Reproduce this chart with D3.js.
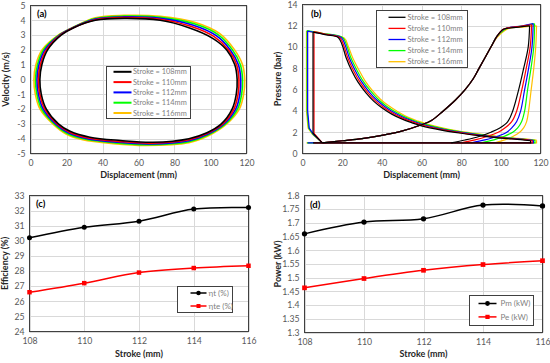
<!DOCTYPE html>
<html>
<head>
<meta charset="utf-8">
<script src="https://cdn.jsdelivr.net/npm/d3@7"></script>
<style>
  body { margin: 0; background: #fff; }
  svg { display: block; }
</style>
</head>
<body>
<svg id="chart" width="550" height="363"></svg>
<script>
// ---- data ----
const strokes = [108, 110, 112, 114, 116];
const strokeColors = ["#000000", "#ff0000", "#0000ff", "#00ff00", "#ffc000"];

// (a) velocity (m/s) vs displacement (mm), one closed loop per stroke
const vel108 = [[5.2,0],[6.3,1],[9.5,2],[17,3],[24,3.5],[36,4],[52,4.13],[72,4.0],[88,3.5],[101,2.8],[109,2],[113.5,1],[114.8,0],[114.3,-1],[112,-2],[106,-3],[98,-3.6],[88,-4],[68,-4.24],[50,-4.12],[33,-3.9],[22,-3.5],[15.5,-3],[8.8,-2],[6,-1]];
const vel110 = [[4.4,0],[5.5,1],[8.8,2],[16.6,3],[23.8,3.5],[36,4.04],[52,4.18],[72,4.07],[89,3.6],[102,2.9],[110,2],[114.5,1],[115.8,0],[115.3,-1],[113,-2],[106.8,-3],[98,-3.65],[88,-4.07],[67,-4.3],[49,-4.18],[32,-3.95],[21.5,-3.55],[14.8,-3],[8,-2],[5.2,-1]];
const vel112 = [[3.6,0],[4.7,1],[8,2],[16.2,3],[23.6,3.5],[36,4.08],[52,4.23],[72,4.13],[90,3.68],[103,2.98],[111,2],[115.5,1],[116.8,0],[116.3,-1],[114,-2],[107.5,-3],[98.3,-3.7],[88,-4.13],[66,-4.35],[48,-4.23],[31,-3.98],[21,-3.6],[14,-3],[7.1,-2],[4.4,-1]];
const vel114 = [[2.8,0],[3.9,1],[7.2,2],[15.8,3],[23.4,3.5],[36,4.12],[52,4.28],[72,4.2],[91,3.76],[104,3.05],[112.2,2],[116.6,1],[117.8,0],[117.3,-1],[115,-2],[108.3,-3],[98.5,-3.75],[88,-4.2],[65,-4.4],[47,-4.28],[30,-4.02],[20.5,-3.65],[13.2,-3],[6.2,-2],[3.6,-1]];
const vel116 = [[1.9,0],[3,1],[6.4,2],[15.4,3],[23.2,3.5],[36,4.17],[52,4.33],[72,4.27],[92,3.84],[105,3.12],[113.4,2],[117.8,1],[119,0],[118.4,-1],[116,-2],[109,-3],[98.8,-3.8],[88,-4.27],[64,-4.45],[46,-4.33],[29,-4.07],[20,-3.7],[12.4,-3],[5.3,-2],[2.7,-1]];
const velLoops = [vel108, vel110, vel112, vel114, vel116];

// (b) pressure (bar) vs displacement (mm)
const presLeft = [
  [[5.3,11.4],[5.3,1.9],[10,1.0]],
  [[5.8,11.45],[5.8,1.9],[10,1.0]],
  [[2.6,11.5],[2.6,4.0],[3.4,2.4],[5.5,1.8],[10,1.0]],
  [[2.3,11.55],[2.3,4.0],[3.1,2.4],[5.3,1.8],[10,1.0]],
  [[2.0,11.5],[2.0,4.0],[2.8,2.4],[5.0,1.8],[10,1.0]]
];
const presExp = [
  [[5.3,11.4],[12,11.15],[18,10.9],[20,10.2],[22,9.0],[25,7.7],[28,6.7],[32,5.7],[36,4.9],[40,4.3],[45,3.7],[50,3.25],[55,2.9],[60,2.6],[70,2.2],[80,1.9],[90,1.65],[100,1.45],[110,1.3],[115,1.2]],
  [[5.8,11.45],[12,11.2],[18.7,10.9],[20.7,10.2],[22.8,9.0],[25.8,7.75],[28.8,6.75],[32.8,5.75],[36.8,4.95],[40.8,4.35],[45.8,3.75],[50.8,3.3],[55.8,2.95],[60.8,2.65],[70.8,2.22],[80.8,1.92],[90.8,1.67],[100.8,1.47],[110.8,1.32],[115.8,1.22]],
  [[2.6,11.5],[10,11.25],[19.5,10.9],[21.5,10.2],[23.6,9.0],[26.6,7.8],[29.6,6.8],[33.6,5.8],[37.6,5.0],[41.6,4.4],[46.6,3.8],[51.6,3.33],[56.6,2.98],[61.6,2.68],[71.6,2.25],[81.6,1.94],[91.6,1.69],[101.6,1.48],[111.6,1.33],[116.4,1.23]],
  [[2.3,11.55],[10,11.3],[20.2,10.9],[22.2,10.2],[24.4,9.0],[27.4,7.85],[30.4,6.85],[34.4,5.85],[38.4,5.05],[42.4,4.45],[47.4,3.85],[52.4,3.37],[57.4,3.01],[62.4,2.71],[72.4,2.27],[82.4,1.96],[92.4,1.7],[102.4,1.49],[112.4,1.34],[117.2,1.24]],
  [[2.0,11.5],[10,11.25],[21,10.85],[23,10.1],[25.3,9.0],[28.3,7.9],[31.3,6.9],[35.3,5.9],[39.3,5.1],[43.3,4.5],[48.3,3.9],[53.3,3.4],[58.3,3.04],[63.3,2.74],[73.3,2.3],[83.3,1.98],[93.3,1.72],[103.3,1.5],[113.3,1.35],[118,1.25]]
];
const presComp = [
  [[10,1.0],[20,1.2],[30,1.4],[40,1.7],[50,2.1],[60,2.7],[65,3.1],[71,4.0],[77,5.0],[82,6.0],[86,7.0],[89,8.0],[92,9.0],[95,10.0],[98,11.0],[101,11.65],[103,11.75],[110,11.9],[114.5,12.0]],
  [[10,1.0],[20,1.2],[30,1.4],[40,1.7],[50,2.1],[60,2.7],[65,3.1],[71,4.0],[77,5.0],[82,6.0],[86,7.0],[89,8.0],[92,9.0],[95,10.0],[98,11.0],[101,11.65],[103,11.78],[110,11.95],[115.5,12.1]],
  [[10,1.0],[20,1.2],[30,1.4],[40,1.7],[50,2.1],[60,2.7],[65,3.1],[71,4.0],[77,5.0],[82,6.0],[86,7.0],[89,8.0],[92,9.0],[95,10.0],[98,11.0],[101.3,11.65],[103.3,11.8],[111,12.0],[116.3,12.2]],
  [[10,1.0],[20,1.2],[30,1.4],[40,1.7],[50,2.1],[60,2.7],[65,3.1],[71,4.0],[77,5.0],[82,6.0],[86,7.0],[89,8.0],[92,9.0],[95,10.0],[98,11.0],[101.6,11.6],[103.6,11.8],[112,12.0],[117,12.2]],
  [[10,1.0],[20,1.2],[30,1.4],[40,1.7],[50,2.1],[60,2.7],[65,3.1],[71,4.0],[77,5.0],[82,6.0],[86,7.0],[89,8.0],[92,9.0],[95,10.0],[98,10.9],[102,11.55],[104,11.75],[112,11.9],[118,12.0]]
];
const presRight = [
  [[114.5,12.0],[113.8,10],[111.5,8],[109,6],[106,4],[103.5,3],[99.5,2.4],[95,2],[89,1.6],[82,1.27],[75,1.0]],
  [[115.5,12.1],[114.8,10],[112.8,8],[110.6,6],[108,4],[105.5,3],[102,2.4],[98.7,2],[93,1.6],[87,1.28],[80,1.0]],
  [[116.3,12.2],[115.7,10],[114,8],[112,6],[110,4],[108,3],[105.5,2.4],[103,2],[98,1.6],[92,1.28],[85,1.0]],
  [[117,12.2],[116.6,10],[115.2,8],[113.5,6],[112,4],[110.5,3],[108.5,2.4],[106,2],[101.5,1.6],[96.5,1.28],[90,1.0]],
  [[118,12.0],[117.6,10],[116.6,8],[115.3,6],[114,4],[113,3],[111.5,2.4],[109.5,2],[106,1.6],[102,1.28],[97,1.0]]
];
const presBase = [
  [[5.3,1.0],[115,1.0],[115,1.2]],
  [[5.8,1.0],[115.8,1.0],[115.8,1.22]],
  [[2.6,1.0],[116.4,1.0],[116.4,1.23]],
  [[2.3,1.0],[117.2,1.0],[117.2,1.24]],
  [[2.0,1.0],[118,1.0],[118,1.25]]
];

// (c) efficiency and (d) power vs stroke
const strokeTicks = [108, 110, 112, 114, 116];
const etaT = [30.2, 30.9, 31.3, 32.1, 32.2];
const etaTe = [26.6, 27.2, 27.9, 28.2, 28.35];
const powerM = [1.66, 1.703, 1.715, 1.765, 1.762];
const powerE = [1.463, 1.497, 1.527, 1.548, 1.562];

// ---- drawing ----
const svg = d3.select("#chart");
svg.append("rect").attr("width", 550).attr("height", 363).attr("fill", "#fff");

const tickFont = "Lato, 'DejaVu Sans', sans-serif";
const tickColor = "#595959";
const gridColor = "#d9d9d9";

// builds one panel: grid, border, tick labels, titles
function panel(o) {
  const x = d3.scaleLinear().domain(o.xDomain).range([o.left, o.right]);
  const y = d3.scaleLinear().domain(o.yDomain).range([o.bottom, o.top]);
  const g = svg.append("g");

  g.append("g").selectAll("line").data(o.yTicks).join("line")
    .attr("x1", o.left).attr("x2", o.right)
    .attr("y1", d => Math.round(y(d)) + 0.5).attr("y2", d => Math.round(y(d)) + 0.5)
    .attr("stroke", gridColor).attr("stroke-width", 1);
  g.append("g").selectAll("line").data(o.xTicks).join("line")
    .attr("y1", o.top).attr("y2", o.bottom)
    .attr("x1", d => Math.round(x(d)) + 0.5).attr("x2", d => Math.round(x(d)) + 0.5)
    .attr("stroke", gridColor).attr("stroke-width", 1);

  const yAxis = g.append("g").attr("transform", `translate(${o.left},0)`)
    .call(d3.axisLeft(y).tickValues(o.yTicks).tickSize(0).tickPadding(5).tickFormat(d => d));
  const xAxis = g.append("g").attr("transform", `translate(0,${o.bottom})`)
    .call(d3.axisBottom(x).tickValues(o.xTicks).tickSize(0).tickPadding(6).tickFormat(d => d));
  [xAxis, yAxis].forEach(a => {
    a.select(".domain").remove();
    a.selectAll("text").attr("fill", tickColor).style("font-family", tickFont).style("font-size", "8.7px");
  });

  g.append("rect")
    .attr("x", o.left).attr("y", o.top)
    .attr("width", o.right - o.left).attr("height", o.bottom - o.top)
    .attr("fill", "none").attr("stroke", "#404040").attr("stroke-width", 1);

  g.append("text").attr("x", (o.left + o.right) / 2).attr("y", o.xTitleY)
    .attr("text-anchor", "middle").attr("fill", "#262626")
    .style("font-family", tickFont).style("font-size", "9px").style("font-weight", "bold")
    .text(o.xTitle);
  g.append("text")
    .attr("transform", `translate(${o.yTitleX},${(o.top + o.bottom) / 2}) rotate(-90)`)
    .attr("text-anchor", "middle").attr("fill", "#262626")
    .style("font-family", tickFont).style("font-size", "9px").style("font-weight", "bold")
    .text(o.yTitle);
  g.append("text").attr("x", o.tagX).attr("y", o.tagY)
    .attr("fill", "#000")
    .style("font-family", tickFont).style("font-size", "9.5px").style("font-weight", "bold")
    .text(o.tag);

  const plot = svg.append("g");
  return { x, y, plot };
}

function legendBox(box, items, opts) {
  const lg = svg.append("g");
  lg.append("rect").attr("x", box.x).attr("y", box.y).attr("width", box.w).attr("height", box.h)
    .attr("fill", "#fff").attr("stroke", "#404040").attr("stroke-width", 1);
  items.forEach((it, i) => {
    const cy = box.y + opts.first + i * opts.step;
    lg.append("line").attr("x1", box.x + opts.lx0).attr("x2", box.x + opts.lx1)
      .attr("y1", cy).attr("y2", cy).attr("stroke", it.color).attr("stroke-width", opts.lw);
    if (it.symbol) {
      lg.append("path").attr("d", d3.symbol().type(it.symbol).size(opts.symSize)())
        .attr("transform", `translate(${box.x + (opts.lx0 + opts.lx1) / 2},${cy})`)
        .attr("fill", it.color);
    }
    lg.append("text").attr("x", box.x + opts.tx).attr("y", cy).attr("dy", "0.35em")
      .attr("fill", "#7f7f7f").style("font-family", tickFont).style("font-size", opts.fs)
      .text(it.label);
  });
}

// (a)
const pa = panel({
  left: 30.5, right: 246.5, top: 5.5, bottom: 153.5,
  xDomain: [0, 120], yDomain: [-5, 5],
  xTicks: d3.range(0, 121, 20), yTicks: d3.range(-5, 6, 1),
  xTitle: "Displacement (mm)", xTitleY: 178, yTitle: "Velocity (m/s)", yTitleX: 9,
  tag: "(a)", tagX: 37, tagY: 17
});
const loopLine = d3.line().x(d => pa.x(d[0])).y(d => pa.y(d[1])).curve(d3.curveCatmullRomClosed.alpha(0.5));
for (let i = strokes.length - 1; i >= 0; i--) {
  pa.plot.append("path").attr("d", loopLine(velLoops[i]))
    .attr("fill", "none").attr("stroke", strokeColors[i]).attr("stroke-width", 1.6);
}
legendBox({ x: 106.5, y: 66.5, w: 84, h: 52 },
  strokes.map((s, i) => ({ label: `Stroke = ${s}mm`, color: strokeColors[i] })),
  { first: 5.3, step: 10.3, lx0: 7, lx1: 25, tx: 26.5, lw: 2, fs: "7.4px" });

// (b)
const pb = panel({
  left: 302.5, right: 540.5, top: 4.5, bottom: 153.5,
  xDomain: [0, 120], yDomain: [0, 14],
  xTicks: d3.range(0, 121, 20), yTicks: d3.range(0, 15, 2),
  xTitle: "Displacement (mm)", xTitleY: 178, yTitle: "Pressure (bar)", yTitleX: 281,
  tag: "(b)", tagX: 311, tagY: 17
});
const smooth = d3.line().x(d => pb.x(d[0])).y(d => pb.y(d[1])).curve(d3.curveCatmullRom.alpha(0.5));
const straight = d3.line().x(d => pb.x(d[0])).y(d => pb.y(d[1]));
for (let i = strokes.length - 1; i >= 0; i--) {
  const c = strokeColors[i];
  [straight(presLeft[i]), straight(presBase[i]), smooth(presExp[i]), smooth(presComp[i]), smooth(presRight[i])]
    .forEach(d => pb.plot.append("path").attr("d", d)
      .attr("fill", "none").attr("stroke", c).attr("stroke-width", 1.2));
}
legendBox({ x: 376.5, y: 10.5, w: 91, h: 57 },
  strokes.map((s, i) => ({ label: `Stroke = ${s}mm`, color: strokeColors[i] })),
  { first: 6.8, step: 11.1, lx0: 12, lx1: 29, tx: 31, lw: 1.3, fs: "7.6px" });

// (c)
const pc = panel({
  left: 29.5, right: 248.5, top: 195.5, bottom: 331.5,
  xDomain: [108, 116], yDomain: [24, 33],
  xTicks: strokeTicks, yTicks: d3.range(24, 34, 1),
  xTitle: "Stroke (mm)", xTitleY: 357, yTitle: "Efficiency (%)", yTitleX: 8,
  tag: "(c)", tagX: 36, tagY: 207
});
const lineC = d3.line().x((d, i) => pc.x(strokeTicks[i])).y(d => pc.y(d)).curve(d3.curveCatmullRom.alpha(0.5));
[[etaT, "#000000", d3.symbolCircle], [etaTe, "#ff0000", d3.symbolSquare]].forEach(([vals, col, sym]) => {
  pc.plot.append("path").attr("d", lineC(vals)).attr("fill", "none").attr("stroke", col).attr("stroke-width", 1.5);
  pc.plot.selectAll(null).data(vals).join("path")
    .attr("d", d3.symbol().type(sym).size(20)())
    .attr("transform", (d, i) => `translate(${pc.x(strokeTicks[i])},${pc.y(d)})`)
    .attr("fill", col);
});
legendBox({ x: 177.5, y: 286.5, w: 55, h: 26 },
  [{ label: "ηt (%)", color: "#000000", symbol: d3.symbolCircle }, { label: "ηte (%)", color: "#ff0000", symbol: d3.symbolSquare }],
  { first: 6.5, step: 13, lx0: 13, lx1: 29, tx: 31, lw: 1.5, fs: "8px", symSize: 16 });

// (d)
const pd = panel({
  left: 304.5, right: 542.5, top: 195.5, bottom: 332.5,
  xDomain: [108, 116], yDomain: [1.3, 1.8],
  xTicks: strokeTicks, yTicks: d3.range(0, 11).map(k => +(1.3 + k * 0.05).toFixed(2)),
  xTitle: "Stroke (mm)", xTitleY: 357, yTitle: "Power (kW)", yTitleX: 281,
  tag: "(d)", tagX: 310, tagY: 208
});
const lineD = d3.line().x((d, i) => pd.x(strokeTicks[i])).y(d => pd.y(d)).curve(d3.curveCatmullRom.alpha(0.5));
[[powerM, "#000000", d3.symbolCircle], [powerE, "#ff0000", d3.symbolSquare]].forEach(([vals, col, sym]) => {
  pd.plot.append("path").attr("d", lineD(vals)).attr("fill", "none").attr("stroke", col).attr("stroke-width", 1.5);
  pd.plot.selectAll(null).data(vals).join("path")
    .attr("d", d3.symbol().type(sym).size(22)())
    .attr("transform", (d, i) => `translate(${pd.x(strokeTicks[i])},${pd.y(d)})`)
    .attr("fill", col);
});
legendBox({ x: 469.5, y: 295.5, w: 64, h: 30 },
  [{ label: "Pm (kW)", color: "#000000", symbol: d3.symbolCircle }, { label: "Pe (kW)", color: "#ff0000", symbol: d3.symbolSquare }],
  { first: 8, step: 13.4, lx0: 9, lx1: 27, tx: 31, lw: 1.5, fs: "8px", symSize: 18 });
</script>
</body>
</html>
